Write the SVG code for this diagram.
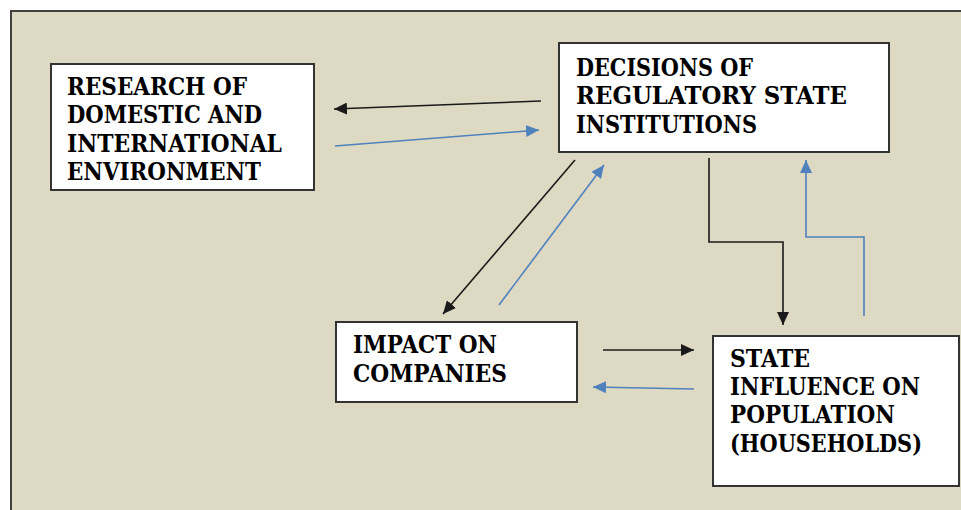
<svg xmlns="http://www.w3.org/2000/svg" width="961" height="510" viewBox="0 0 961 510">
<style>
.box{fill:#fff;stroke:#333;stroke-width:2}
.t{font-family:'DejaVu Serif','Liberation Serif',serif;font-weight:700;font-size:24px;fill:#000}
.k{fill:none;stroke:#1a1a1a;stroke-width:1.6}
.b{fill:none;stroke:#4f81bd;stroke-width:1.6}
</style>
<defs>
<marker id="ak" markerUnits="userSpaceOnUse" markerWidth="14" markerHeight="12" refX="13" refY="6" orient="auto"><path d="M0,0 L13,6 L0,12 Z" fill="#1a1a1a"/></marker>
<marker id="ab" markerUnits="userSpaceOnUse" markerWidth="14" markerHeight="12" refX="13" refY="6" orient="auto"><path d="M0,0 L13,6 L0,12 Z" fill="#4f81bd"/></marker>
</defs>
<rect x="0" y="0" width="961" height="510" fill="#fff"/>
<rect x="11" y="11" width="965" height="515" fill="#ddd9c3" stroke="#404040" stroke-width="2"/>
<g id="research">
<rect class="box" x="51" y="64" width="263" height="126"/>
<text class="t" x="67" y="95" textLength="180" lengthAdjust="spacingAndGlyphs">RESEARCH OF</text>
<text class="t" x="67" y="123" textLength="195" lengthAdjust="spacingAndGlyphs">DOMESTIC AND</text>
<text class="t" x="67" y="152" textLength="215" lengthAdjust="spacingAndGlyphs">INTERNATIONAL</text>
<text class="t" x="67" y="180" textLength="194" lengthAdjust="spacingAndGlyphs">ENVIRONMENT</text>
</g>
<g id="decisions">
<rect class="box" x="559" y="43" width="330" height="109"/>
<text class="t" x="576" y="76" textLength="177" lengthAdjust="spacingAndGlyphs">DECISIONS OF</text>
<text class="t" x="576" y="104" textLength="271" lengthAdjust="spacingAndGlyphs">REGULATORY STATE</text>
<text class="t" x="576" y="133" textLength="181" lengthAdjust="spacingAndGlyphs">INSTITUTIONS</text>
</g>
<g id="impact">
<rect class="box" x="336" y="322" width="241" height="80"/>
<text class="t" x="353" y="353" textLength="144" lengthAdjust="spacingAndGlyphs">IMPACT ON</text>
<text class="t" x="353" y="382" textLength="154" lengthAdjust="spacingAndGlyphs">COMPANIES</text>
</g>
<g id="state">
<rect class="box" x="713" y="336" width="246" height="150"/>
<text class="t" x="730" y="367" textLength="80" lengthAdjust="spacingAndGlyphs">STATE</text>
<text class="t" x="730" y="395" textLength="190" lengthAdjust="spacingAndGlyphs">INFLUENCE ON</text>
<text class="t" x="730" y="423" textLength="165" lengthAdjust="spacingAndGlyphs">POPULATION</text>
<text class="t" x="730" y="452" textLength="192" lengthAdjust="spacingAndGlyphs">(HOUSEHOLDS)</text>
</g>
<g id="connectors">
<path class="k" d="M541,101 L334,109" marker-end="url(#ak)"/>
<path class="b" d="M335,146 L539,130" marker-end="url(#ab)"/>
<path class="k" d="M575,160 L443,314" marker-end="url(#ak)"/>
<path class="b" d="M499,305 L604,165" marker-end="url(#ab)"/>
<path class="k" d="M709,158 V242 H783 V325" marker-end="url(#ak)"/>
<path class="b" d="M864,316 V237 H806 V160" marker-end="url(#ab)"/>
<path class="k" d="M603,350 L694,350" marker-end="url(#ak)"/>
<path class="b" d="M694,389 L593,387" marker-end="url(#ab)"/>
</g>
</svg>
